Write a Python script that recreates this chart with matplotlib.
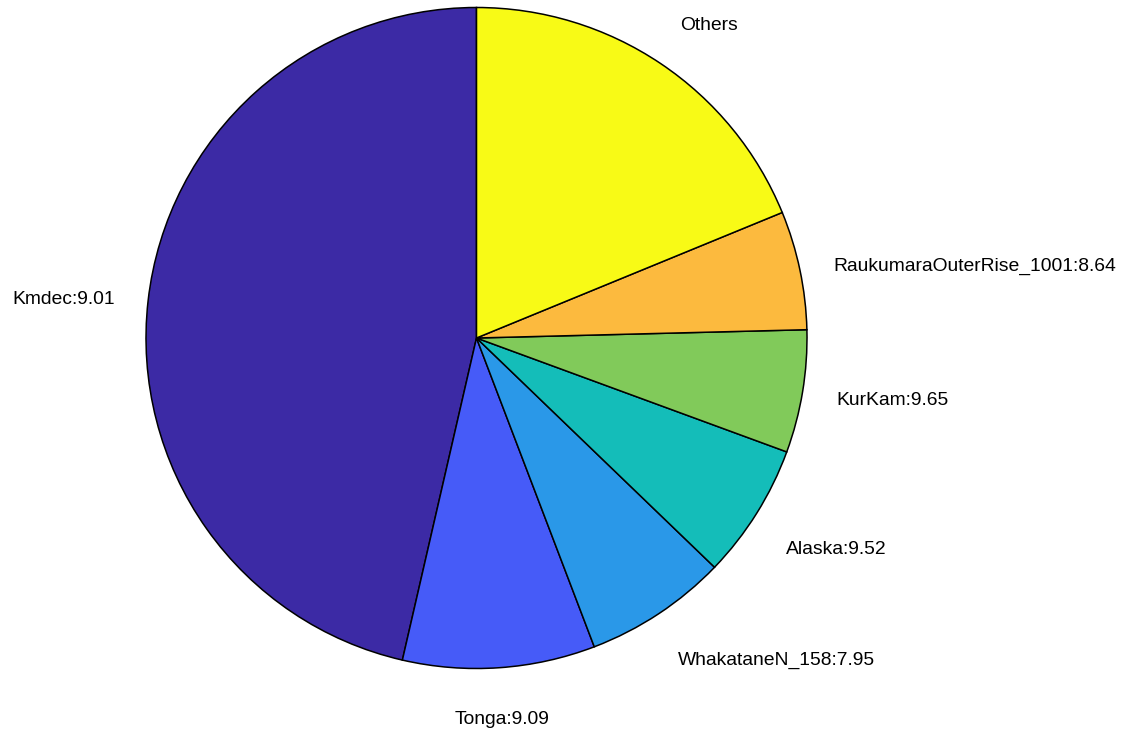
import numpy as np
import matplotlib
matplotlib.use("Agg")
import matplotlib.pyplot as plt

# slice data (percent of whole)
names = ["Kmdec:9.01", "Tonga:9.09", "WhakataneN_158:7.95", "Alaska:9.52",
         "KurKam:9.65", "RaukumaraOuterRise_1001:8.64", "Others"]
shares = [46.4, 9.4, 7.0, 6.6, 6.0, 5.8, 18.8]
colors = ["#3C2AA5", "#465BF8", "#2A98E8", "#14BDB9", "#81CA5A", "#FCBA3E", "#F8FA16"]

plt.rcParams['font.family'] = ['Liberation Sans', 'DejaVu Sans']

W, H = 1130, 733
fig = plt.figure(figsize=(W / 100, H / 100), dpi=100)
cx, cy, r = 476.5, 338, 330.5
ax = fig.add_axes([(cx - r) / W, (H - cy - r) / H, 2 * r / W, 2 * r / H])

wedges, _ = ax.pie(shares, colors=colors, startangle=90, counterclock=True,
                   wedgeprops=dict(edgecolor="black", linewidth=1.1))
ax.set_xlim(-1, 1)
ax.set_ylim(-1, 1)
ax.set_aspect("equal")
ax.axis("off")

for w, name in zip(wedges, names):
    mid = np.deg2rad((w.theta1 + w.theta2) / 2)
    c, s = np.cos(mid), np.sin(mid)
    x, y = 1.1 * c, 1.1 * s
    if abs(c) < 0.15:
        ha = "center"
    elif c > 0:
        ha = "left"
    else:
        ha = "right"
    if s < -0.3:
        dy = -19
    elif s > 0.3:
        dy = 11
    else:
        dy = -3
    ax.annotate(name, xy=(x, y), xytext=(1 if ha == "left" else 0, dy),
                textcoords="offset pixels", ha=ha, va="center",
                fontsize=13.9, annotation_clip=False)

fig.savefig("out.png", dpi=100)
